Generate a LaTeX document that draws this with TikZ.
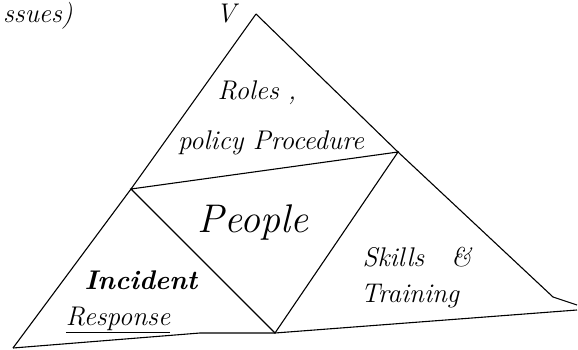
\documentclass[tikz,border=0pt]{standalone}
\usepackage{tikz}

\begin{document}
\begin{tikzpicture}[x=1pt,y=-1pt,
  edge/.style={black,line width=1.1pt},
  hand/.style={font=\itshape\fontsize{27}{29}\selectfont,inner sep=1pt}]
\useasboundingbox (0,0) rectangle (578,350);
% corners of the pyramid
\coordinate (apex) at (256,14);
\coordinate (midL) at (131,189);
\coordinate (midR) at (398,152);
\coordinate (baseL) at (13,348);
\coordinate (baseV) at (275,333);
\coordinate (tipR) at (577,305);
\coordinate (baseR) at (577,310);
% outline
\draw[edge] (apex) -- (midL) -- (baseL);
\draw[edge] (apex) -- (midR) -- (553,297) -- (tipR);
\draw[edge] (baseL) -- (200,333) -- (baseV) -- (baseR);
% inner triangle
\draw[edge] (midL) -- (midR) -- (baseV) -- cycle;
% labels
\node[hand] (roles) at (257,93) {Roles ,};
\node[hand] (policy) at (271,143) {policy Procedure};
\node[font=\itshape\fontsize{40}{42}\selectfont] (people) at (253,222) {People};
\node[hand,font=\bfseries\itshape\fontsize{27}{29}\selectfont] (incident) at (141,280) {Incident};
\node[hand] (response) at (118,320) {\underline{Response}};
\node[hand] (skills) at (417,257) {Skills\quad\&};
\node[hand] (training) at (410,296) {Training};
\node[hand,anchor=north west] (issues) at (2,1) {ssues)};
\node[hand,anchor=north] (vmark) at (226,3) {V};
\end{tikzpicture}
\end{document}
